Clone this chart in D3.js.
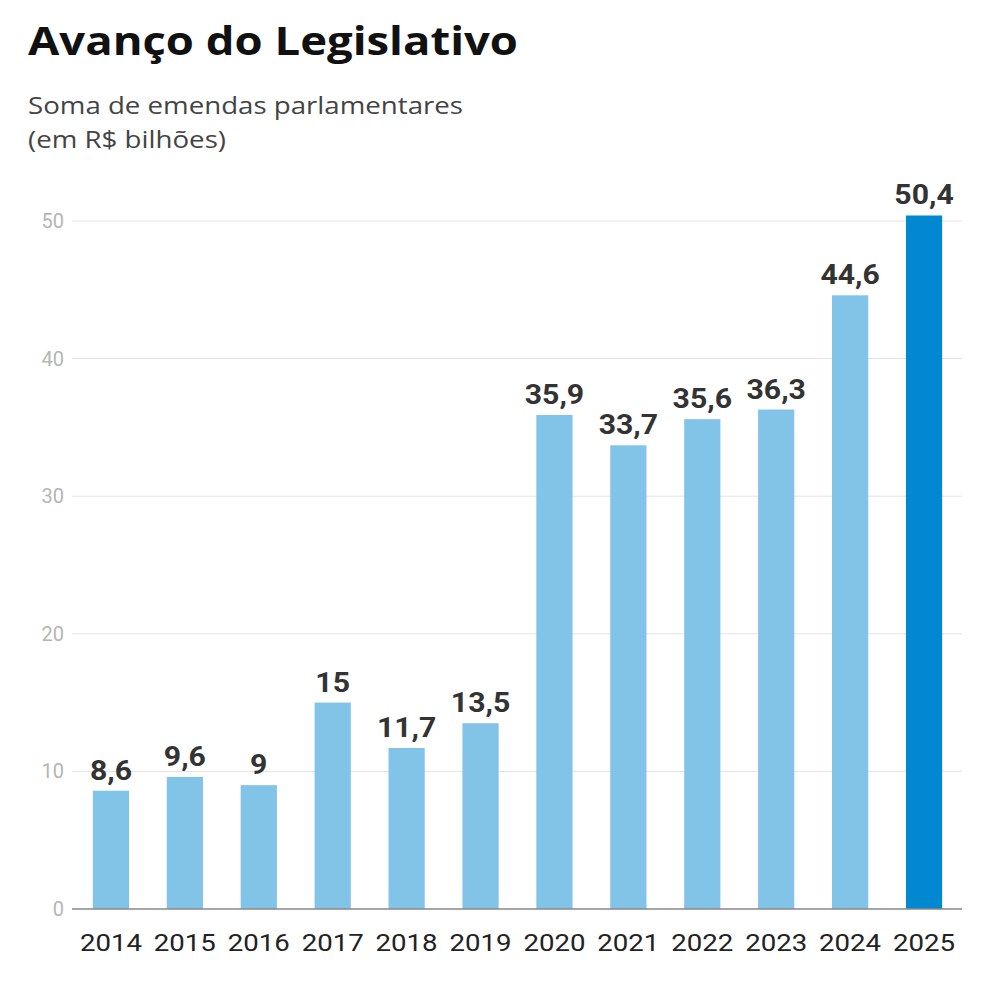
<!DOCTYPE html>
<html><head><meta charset="utf-8">
<script src="https://cdn.jsdelivr.net/npm/d3@7"></script>
<style>body{margin:0;background:#fff}</style></head>
<body><svg id="c" width="984" height="993"></svg>
<script>
const years=["2014","2015","2016","2017","2018","2019","2020","2021","2022","2023","2024","2025"];
const values=[8.6,9.6,9,15,11.7,13.5,35.9,33.7,35.6,36.3,44.6,50.4];
const labels=["8,6","9,6","9","15","11,7","13,5","35,9","33,7","35,6","36,3","44,6","50,4"];
const yTicks=[0,10,20,30,40,50];
const svg=d3.select("#c");
svg.append("text").attr("x",28).attr("y",55).attr("font-family","Open Sans").attr("font-weight",700).attr("font-size",40).attr("fill","#111").attr("textLength",490).attr("lengthAdjust","spacingAndGlyphs").text("Avanço do Legislativo");
svg.append("text").attr("x",28).attr("y",114).attr("font-family","Open Sans").attr("font-size",23).attr("fill","#444").attr("textLength",435).attr("lengthAdjust","spacingAndGlyphs").text("Soma de emendas parlamentares");
svg.append("text").attr("x",28).attr("y",148).attr("font-family","Open Sans").attr("font-size",23).attr("fill","#444").attr("textLength",198).attr("lengthAdjust","spacingAndGlyphs").text("(em R$ bilhões)");
const x=d3.scaleBand().domain(years).range([74,961]).paddingInner(0.51).paddingOuter(0.255);
const y=d3.scaleLinear().domain([0,50]).range([909,221]);
yTicks.forEach(t=>{
  if(t>0) svg.append("line").attr("x1",72).attr("x2",962).attr("y1",y(t)).attr("y2",y(t)).attr("stroke","#e4e4e4");
  svg.append("text").attr("x",64).attr("y",y(t)+7).attr("text-anchor","end").attr("font-family","Roboto").attr("font-size",20).attr("fill","#b5b5b5").text(t);
});
svg.selectAll("rect").data(values).join("rect").attr("x",(d,i)=>x(years[i])).attr("width",x.bandwidth())
 .attr("y",d=>y(d)).attr("height",d=>y(0)-y(d)).attr("fill",(d,i)=>i==11?"#0288d1":"#82c3e8");
svg.append("line").attr("x1",72).attr("x2",962).attr("y1",909).attr("y2",909).attr("stroke","#888").attr("stroke-width",1.5);
svg.selectAll(".v").data(values).join("text")
 .attr("transform",(d,i)=>`translate(${x(years[i])+x.bandwidth()/2},${y(d)-11}) scale(1.12,1)`)
 .attr("text-anchor","middle").attr("font-family","Roboto").attr("font-weight",700).attr("font-size",27).attr("fill","#333").text((d,i)=>labels[i]);
svg.selectAll(".x").data(years).join("text")
 .attr("transform",d=>`translate(${x(d)+x.bandwidth()/2},951) scale(1.2,1)`)
 .attr("text-anchor","middle").attr("font-family","Roboto").attr("font-size",23).attr("fill","#222").text(d=>d);
</script></body></html>
